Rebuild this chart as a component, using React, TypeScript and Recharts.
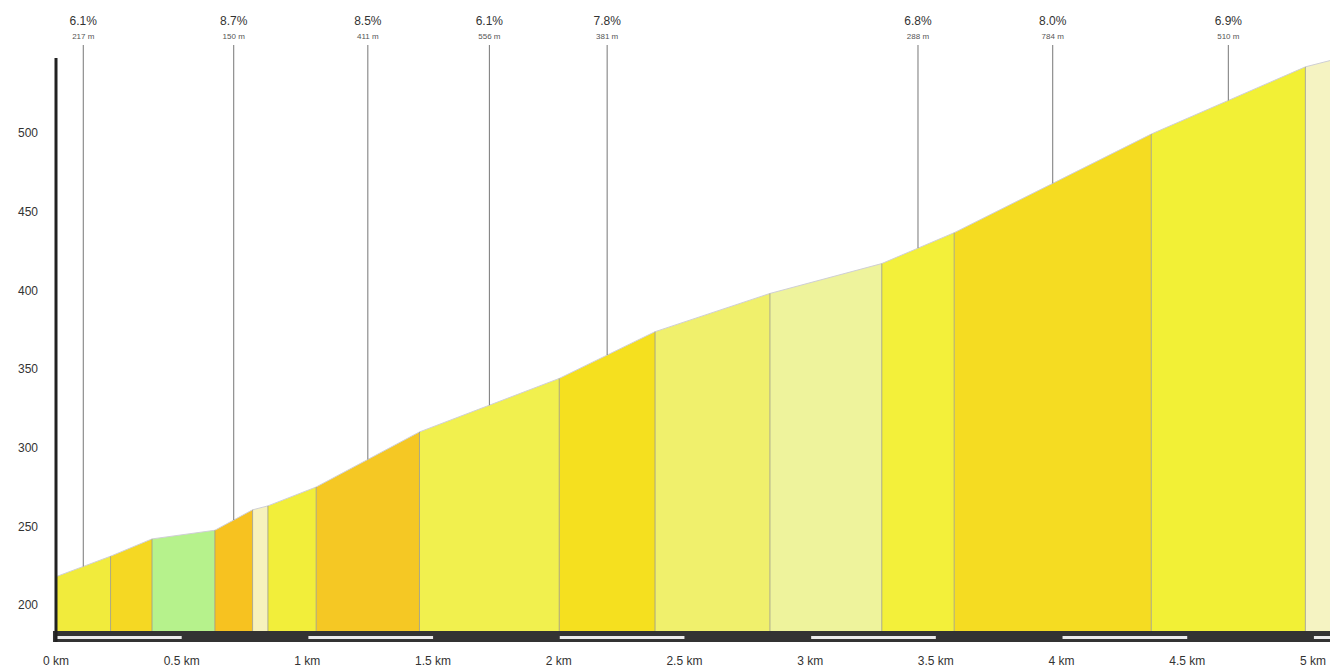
import React from 'react';
import {
  ComposedChart,
  Area,
  XAxis,
  YAxis,
  ReferenceLine,
  ReferenceArea,
} from 'recharts';

// Точки профиля: километраж и высота на границах отрезков
const KM = [0, 0.217, 0.382, 0.632, 0.782, 0.843, 1.035, 1.446, 2.002, 2.383, 2.84, 3.285, 3.573, 4.357, 4.97, 5.068];
const ELEV = [218, 231, 242, 247.5, 260.5, 263, 275, 310, 344, 373.7, 398, 417, 436.6, 499.3, 542, 546];

// Цвет каждого отрезка (по уклону)
const SEGMENT_COLORS = [
  '#f1eb3c', '#f5d823', '#b6f28c', '#f7c220', '#f7f2bc',
  '#f2ee3a', '#f5c824', '#f1f04e', '#f5e01f', '#f0f06c',
  '#eef39c', '#f3f03a', '#f5dc22', '#f2f036', '#f5f3c2',
];

// Подписи над отрезками
const ANNOT_SEGMENTS = [0, 3, 6, 7, 8, 11, 12, 13];
const ANNOT_GRADES = ['6.1%', '8.7%', '8.5%', '6.1%', '7.8%', '6.8%', '8.0%', '6.9%'];
const ANNOT_LENGTHS = ['217 m', '150 m', '411 m', '556 m', '381 m', '288 m', '784 m', '510 m'];

const X_TICKS = [0, 0.5, 1, 1.5, 2, 2.5, 3, 3.5, 4, 4.5, 5];
const Y_TICKS = [200, 250, 300, 350, 400, 450, 500];

const X_MAX = 5.068;
const Y_MIN = 176.5;
const Y_MAX = 555.9;
const BAR_TOP = 183.5;
const STRIPE_TOP = 180.3;
const STRIPE_BOTTOM = 178.4;
const AXIS_TOP = 547.7;

// Одна таблица: у каждого отрезка свой ключ, заполнен только на его двух концах
const data = KM.map((km, i) => {
  const row: Record<string, number | null> = { km };
  SEGMENT_COLORS.forEach((_, s) => {
    row[`s${s}`] = i === s || i === s + 1 ? ELEV[i] : null;
  });
  return row;
});

const AnnotLabel = ({ viewBox, grade, len }: any) => {
  if (!viewBox) return null;
  const x = viewBox.x;
  const y = viewBox.y;
  return (
    <g>
      <text x={x} y={y - 20} textAnchor="middle" fontSize={12} fill="#333">
        {grade}
      </text>
      <text x={x} y={y - 6} textAnchor="middle" fontSize={8} fill="#555">
        {len}
      </text>
    </g>
  );
};

export default function App() {
  return (
    <div
      style={{
        position: 'absolute',
        left: 0,
        top: 0,
        background: '#fff',
        fontFamily: '"Liberation Sans", Arial, sans-serif',
      }}
    >
      <ComposedChart
        width={1330}
        height={672}
        data={data}
        margin={{ top: 45, right: 0, bottom: 0, left: 0 }}
      >
        <XAxis
          dataKey="km"
          type="number"
          domain={[0, X_MAX]}
          ticks={X_TICKS}
          tickFormatter={(v: number) => `${v} km`}
          axisLine={false}
          tickLine={false}
          tickSize={0}
          tickMargin={14}
          height={30}
          interval={0}
          tick={{ fill: '#333', fontSize: 12 }}
          allowDataOverflow
        />
        <YAxis
          type="number"
          domain={[Y_MIN, Y_MAX]}
          ticks={Y_TICKS}
          axisLine={false}
          tickLine={false}
          tickSize={0}
          tickMargin={18}
          width={56}
          interval={0}
          tick={{ fill: '#333', fontSize: 12 }}
          allowDataOverflow
        />
        {SEGMENT_COLORS.map((color, s) => (
          <Area
            key={`s${s}`}
            dataKey={`s${s}`}
            type="linear"
            fill={color}
            fillOpacity={1}
            stroke="#cfcfd6"
            strokeWidth={1}
            baseValue={BAR_TOP}
            connectNulls={false}
            dot={false}
            activeDot={false}
            isAnimationActive={false}
          />
        ))}
        {/* тонкие границы между отрезками */}
        {KM.slice(1, -1).map((km, i) => (
          <ReferenceLine
            key={`b${i}`}
            segment={[
              { x: km, y: BAR_TOP },
              { x: km, y: ELEV[i + 1] },
            ]}
            stroke="#9a9a8a"
            strokeWidth={1}
            strokeOpacity={0.8}
          />
        ))}
        {/* шкала внизу */}
        <ReferenceArea x1={-0.012} x2={X_MAX} y1={Y_MIN} y2={BAR_TOP} fill="#333" fillOpacity={1} stroke="none" ifOverflow="visible" />
        {X_TICKS.filter((_, i) => i % 2 === 0).map((t) => (
          <ReferenceArea
            key={`st${t}`}
            x1={t + 0.004}
            x2={Math.min(t + 0.5, X_MAX)}
            y1={STRIPE_BOTTOM}
            y2={STRIPE_TOP}
            fill="#ececec"
            fillOpacity={1}
            stroke="none"
          />
        ))}
        {/* ось высот */}
        <ReferenceLine
          segment={[
            { x: 0, y: Y_MIN },
            { x: 0, y: AXIS_TOP },
          ]}
          stroke="#222"
          strokeWidth={3}
        />
        {/* выноски с уклоном и длиной */}
        {ANNOT_SEGMENTS.map((s, i) => {
          const mid = (KM[s] + KM[s + 1]) / 2;
          const midElev = (ELEV[s] + ELEV[s + 1]) / 2;
          return (
            <ReferenceLine
              key={`a${i}`}
              segment={[
                { x: mid, y: Y_MAX },
                { x: mid, y: midElev },
              ]}
              stroke="#777"
              strokeWidth={1}
              label={(props: any) => (
                <AnnotLabel {...props} grade={ANNOT_GRADES[i]} len={ANNOT_LENGTHS[i]} />
              )}
            />
          );
        })}
      </ComposedChart>
    </div>
  );
}
